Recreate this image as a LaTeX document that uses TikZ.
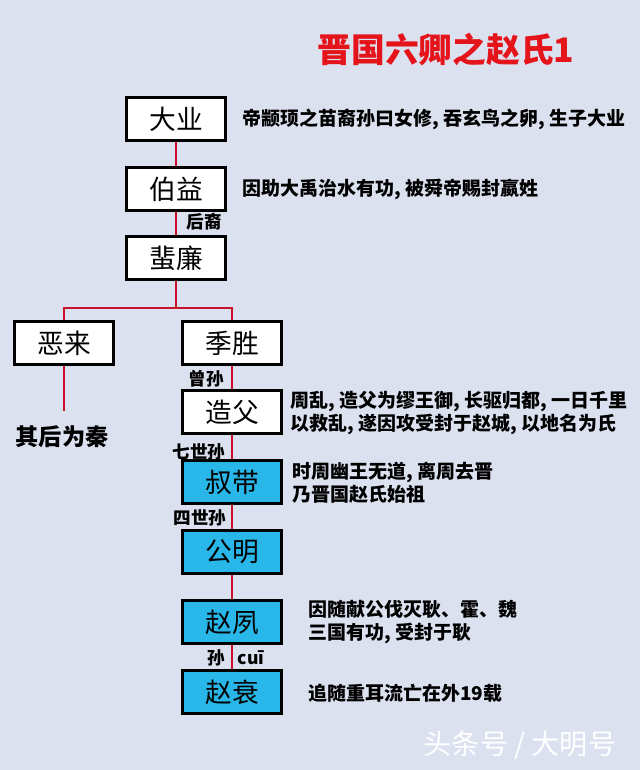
\documentclass[tikz,border=0pt]{standalone}
\usepackage{fontspec}
\setmainfont{Noto Sans CJK SC}
\definecolor{bgcol}{HTML}{DCE1F0}
\definecolor{linecol}{HTML}{C8102E}
\definecolor{boxblue}{HTML}{29B6E8}
\definecolor{titlered}{HTML}{E5141B}
\tikzset{
  person/.style={draw=black, line width=1.5pt, fill=white,
    minimum width=2.475cm, minimum height=1.075cm, inner sep=0pt,
    font=\fontsize{19}{21}\selectfont},
  zhao/.style={person, fill=boxblue},
  gen/.style={font=\fontsize{12.5}{14}\selectfont\bfseries, inner sep=0pt},
  note/.style={anchor=west, align=left, inner sep=0pt,
    font=\fontsize{13.5}{16.5}\selectfont\bfseries},
  link/.style={draw=linecol, line width=2pt}
}
\begin{document}
\begin{tikzpicture}[x=0.025cm, y=-0.025cm]
      \fill[bgcol] (0,0) rectangle (640,770);
      \useasboundingbox (0,0) rectangle (640,770);
      % title
      \node[font=\fontsize{24}{26}\selectfont\bfseries, text=titlered] (title) at (446,50) {晋国六卿之赵氏1};
      % family
      \node[person] (daye) at (176,119) {大业};
      \node[person] (boyi) at (176,189) {伯益};
      \node[person] (feilian) at (176,258) {蜚廉};
      \node[person] (elai) at (64,343) {恶来};
      \node[person] (jisheng) at (232,343) {季胜};
      \node[person] (zaofu) at (232,412) {造父};
      \node[zhao] (shudai) at (232,482) {叔带};
      \node[zhao] (gongming) at (232,552) {公明};
      \node[zhao] (zhaosu) at (232,622) {赵夙};
      \node[zhao] (zhaocui) at (232,692) {赵衰};
      \coordinate (fork) at (176,308);
      \coordinate (qin) at (64,411);
      \begin{scope}[link]
        \draw (daye) to (boyi);
        \draw (boyi) to (feilian);
        \draw (feilian) to (fork);
        \draw (fork) -| (elai.north);
        \draw (fork) -| (jisheng.north);
        \draw (elai) to (qin);
        \draw (jisheng) to (zaofu);
        \draw (zaofu) to (shudai);
        \draw (shudai) to (gongming);
        \draw (gongming) to (zhaosu);
        \draw (zhaosu) to (zhaocui);
      \end{scope}
      % generations
      \node[gen] (houyi) at (204,222) {后裔};
      \node[gen] (zengsun) at (206,379) {曾孙};
      \node[gen] (qishisun) at (199,452) {七世孙};
      \node[gen] (sishisun) at (200,518) {四世孙};
      \node[gen] (sun) at (216,658) {孙};
      \node[gen] (cui) at (251,658) {cuī};
      % notes
      \node[note] (daye note) at (242,119) {帝颛顼之苗裔孙曰女修, 吞玄鸟之卵, 生子大业};
      \node[note] (boyi note) at (242,189) {因助大禹治水有功, 被舜帝赐封嬴姓};
      \node[note] (zaofu note) at (290,413) {周乱, 造父为缪王御, 长驱归都, 一日千里\\以救乱, 遂因攻受封于赵城, 以地名为氏};
      \node[note] (shudai note) at (292,483) {时周幽王无道, 离周去晋\\乃晋国赵氏始祖};
      \node[note] (zhaosu note) at (308,622) {因随献公伐灭耿、霍、魏\\三国有功, 受封于耿};
      \node[note] (zhaocui note) at (308,693) {追随重耳流亡在外19载};
      \node[font=\fontsize{16.5}{18}\selectfont\bfseries] (qin note) at (62,437) {其后为秦};
      \node[font=\fontsize{20}{22}\selectfont, text=white] (mark) at (520,745) {头条号 / 大明号};
    \end{tikzpicture}
\end{document}
